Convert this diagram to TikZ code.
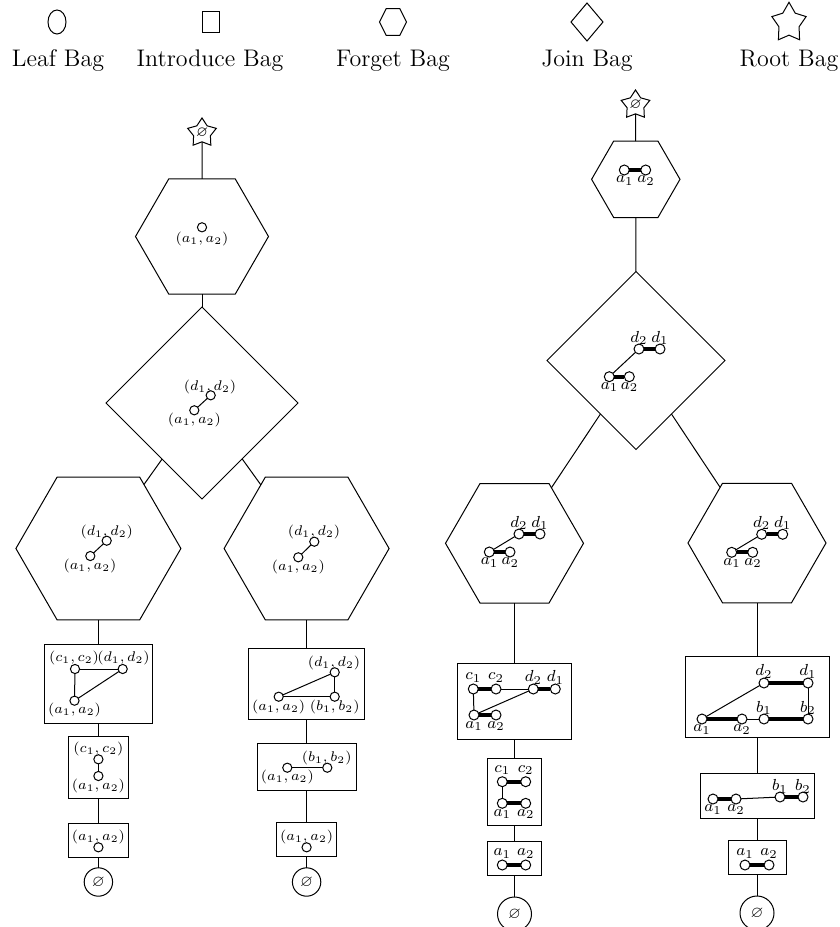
\documentclass[tikz,border=0pt]{standalone}
\usepackage{amssymb}
\usetikzlibrary{shapes.geometric}
\tikzset{
 bag/.style={draw, line width=0.5pt, inner sep=0pt, outer sep=0pt},
 hexbag/.style={bag, regular polygon, regular polygon sides=6, minimum size=#1},
 diabag/.style={bag, diamond, minimum width=#1, minimum height=#1},
 boxbag/.style 2 args={bag, rectangle, minimum width=#1, minimum height=#2},
 leafbag/.style={bag, circle, minimum size=#1, font=\footnotesize},
 rootbag/.style={bag, star, star points=5, star point ratio=1.7, minimum size=#1, font=\scriptsize},
 vtx/.style={circle, draw, line width=0.5pt, fill=white, inner sep=0pt, outer sep=0pt, minimum size=4.6pt},
 rvtx/.style={vtx, minimum size=5pt},
 lbl/.style={inner sep=0pt, font=\scriptsize},
 rlbl/.style={inner sep=0pt, font=\footnotesize},
 tedge/.style={line width=0.5pt},
 thk/.style={line width=2pt},
 legtext/.style={font=\large, anchor=base, inner sep=0pt},
}
\begin{document}
\begin{tikzpicture}[x=0.5pt,y=-0.5pt]
\useasboundingbox (0,0) rectangle (840,927);
% ---------------- legend ----------------
\node[bag, ellipse, minimum width=9pt, minimum height=12pt] (legLeaf) at (57,22) {};
\node[bag, minimum width=8.5pt, minimum height=10.5pt] (legIntro) at (211,22) {};
\begin{scope}[shift={(393,22)}, yscale=1.15, transform shape]
\node[hexbag=13.5pt] (legForget) at (0,0) {};
\end{scope}
\node[bag, diamond, minimum width=16pt, minimum height=19pt] (legJoin) at (587,22) {};
\begin{scope}[shift={(789,23)}, yscale=1.15, transform shape]
\node[bag, star, star points=5, star point ratio=1.7, minimum size=18pt] (legRoot) at (0,0) {};
\end{scope}
\node[legtext] (legLeafT) at (58,66) {Leaf Bag};
\node[legtext] (legIntroT) at (210,66) {Introduce Bag};
\node[legtext] (legForgetT) at (393,66) {Forget Bag};
\node[legtext] (legJoinT) at (587,66) {Join Bag};
\node[legtext] (legRootT) at (789,66) {Root Bag};

% ---------------- left tree: bags ----------------
\node[rootbag=12pt] (rootL) at (202,133) {$\varnothing$};
\node[hexbag=66.5pt] (hexL1) at (202,236.5) {};
\node[diabag=96pt] (diaL) at (202,403) {};
\node[hexbag=82.5pt] (hexL2) at (98.4,548.5) {};
\node[hexbag=82.5pt] (hexL3) at (306.6,548.5) {};
\node[boxbag={54.2pt}{39.2pt}] (boxL1) at (98.4,683.8) {};
\node[boxbag={30pt}{31.2pt}] (boxL2) at (98.4,767.2) {};
\node[boxbag={30pt}{17pt}] (boxL3) at (98.4,840.3) {};
\node[leafbag=14.2pt] (leafL1) at (98.4,882) {$\varnothing$};
\node[boxbag={58pt}{35.5pt}] (boxL4) at (306.6,683.8) {};
\node[boxbag={49.5pt}{23.5pt}] (boxL5) at (306.6,767.2) {};
\node[boxbag={30.2pt}{17pt}] (boxL6) at (306.6,839.7) {};
\node[leafbag=14.2pt] (leafL2) at (306.6,882) {$\varnothing$};
\draw[tedge] (rootL) -- (hexL1);
\draw[tedge] (hexL1) -- (diaL);
\draw[tedge] (diaL) -- (hexL2);
\draw[tedge] (diaL) -- (hexL3);
\draw[tedge] (hexL2) -- (boxL1);
\draw[tedge] (boxL1) -- (boxL2);
\draw[tedge] (boxL2) -- (boxL3);
\draw[tedge] (boxL3) -- (leafL1);
\draw[tedge] (hexL3) -- (boxL4);
\draw[tedge] (boxL4) -- (boxL5);
\draw[tedge] (boxL5) -- (boxL6);
\draw[tedge] (boxL6) -- (leafL2);

% ---------------- left tree: contents ----------------
% hexL1
\node[vtx] (l1a) at (202,227.3) {};
\node[lbl] (l1al) at (202,238.5) {$(a_1,a_2)$};
% diaL
\node[vtx] (l2a) at (194.3,410.3) {};
\node[vtx] (l2d) at (210.7,395.3) {};
\draw[tedge] (l2a) -- (l2d);
\node[lbl] (l2dl) at (210,386.7) {$(d_1,d_2)$};
\node[lbl] (l2al) at (194.3,420) {$(a_1,a_2)$};
% hexL2
\node[vtx] (l3a) at (90.3,556) {};
\node[vtx] (l3d) at (106.7,540.7) {};
\draw[tedge] (l3a) -- (l3d);
\node[lbl] (l3dl) at (106.7,531.7) {$(d_1,d_2)$};
\node[lbl] (l3al) at (90,566) {$(a_1,a_2)$};
% hexL3
\node[vtx] (l4a) at (298.3,557.3) {};
\node[vtx] (l4d) at (314.3,541.7) {};
\draw[tedge] (l4a) -- (l4d);
\node[lbl] (l4dl) at (314,532) {$(d_1,d_2)$};
\node[lbl] (l4al) at (298.3,567.3) {$(a_1,a_2)$};
% boxL1
\node[vtx] (l5c) at (75,669) {};
\node[vtx] (l5d) at (122.7,669) {};
\node[vtx] (l5a) at (74.5,700.7) {};
\draw[tedge] (l5c) -- (l5d);
\draw[tedge] (l5c) -- (l5a);
\draw[tedge] (l5a) -- (l5d);
\node[lbl] (l5cl) at (74,658.3) {$(c_1,c_2)$};
\node[lbl] (l5dl) at (123.5,658.3) {$(d_1,d_2)$};
\node[lbl] (l5al) at (74.5,710.3) {$(a_1,a_2)$};
% boxL2
\node[vtx] (l6c) at (98.4,759.3) {};
\node[vtx] (l6a) at (98.4,776) {};
\draw[tedge] (l6c) -- (l6a);
\node[lbl] (l6cl) at (98.4,749.3) {$(c_1,c_2)$};
\node[lbl] (l6al) at (98.4,785.7) {$(a_1,a_2)$};
% boxL3
\node[vtx] (l7a) at (98.4,847.3) {};
\node[lbl] (l7al) at (98.4,837.3) {$(a_1,a_2)$};
% boxL4
\node[vtx] (l8d) at (334.7,672.3) {};
\node[vtx] (l8b) at (334.7,696.7) {};
\node[vtx] (l8a) at (278.7,696.7) {};
\draw[tedge] (l8a) -- (l8d);
\draw[tedge] (l8d) -- (l8b);
\draw[tedge] (l8a) -- (l8b);
\node[lbl] (l8dl) at (334,662.7) {$(d_1,d_2)$};
\node[lbl] (l8al) at (278.7,706.7) {$(a_1,a_2)$};
\node[lbl] (l8bl) at (334.7,706.7) {$(b_1,b_2)$};
% boxL5
\node[vtx] (l9a) at (287.3,767.7) {};
\node[vtx] (l9b) at (327.3,767.7) {};
\draw[tedge] (l9a) -- (l9b);
\node[lbl] (l9bl) at (326.7,757.7) {$(b_1,b_2)$};
\node[lbl] (l9al) at (287.3,777.3) {$(a_1,a_2)$};
% boxL6
\node[vtx] (l10a) at (306.6,847.3) {};
\node[lbl] (l10al) at (306.6,837.3) {$(a_1,a_2)$};

% ---------------- right tree: bags ----------------
\node[rootbag=13pt] (rootR) at (635.5,105) {$\varnothing$};
\node[hexbag=44.2pt] (hexR1) at (635.8,179.3) {};
\node[diabag=89pt] (diaR) at (636,360.5) {};
\node[hexbag=69pt] (hexR2) at (514.5,543.3) {};
\node[hexbag=69pt] (hexR3) at (757,543) {};
\node[boxbag={57pt}{37.8pt}] (boxR1) at (514.5,701.2) {};
\node[boxbag={27.2pt}{33.7pt}] (boxR2) at (514.5,792) {};
\node[boxbag={27.2pt}{17pt}] (boxR3) at (514.5,858.7) {};
\node[leafbag=17pt] (leafR1) at (514.5,914) {$\varnothing$};
\node[boxbag={72pt}{40.5pt}] (boxR4) at (757,696.5) {};
\node[boxbag={57pt}{22.5pt}] (boxR5) at (757,795.5) {};
\node[boxbag={29pt}{17pt}] (boxR6) at (757,857) {};
\node[leafbag=17pt] (leafR2) at (757,913) {$\varnothing$};
\draw[tedge] (rootR) -- (hexR1);
\draw[tedge] (hexR1) -- (diaR);
\draw[tedge] (diaR) -- (hexR2);
\draw[tedge] (diaR) -- (hexR3);
\draw[tedge] (hexR2) -- (boxR1);
\draw[tedge] (boxR1) -- (boxR2);
\draw[tedge] (boxR2) -- (boxR3);
\draw[tedge] (boxR3) -- (leafR1);
\draw[tedge] (hexR3) -- (boxR4);
\draw[tedge] (boxR4) -- (boxR5);
\draw[tedge] (boxR5) -- (boxR6);
\draw[tedge] (boxR6) -- (leafR2);

% ---------------- right tree: contents ----------------
% hexR1
\node[rvtx] (r1a1) at (624.3,170) {};
\node[rvtx] (r1a2) at (645.7,170) {};
\draw[thk] (r1a1) -- (r1a2);
\node[rlbl] (r1a1l) at (624.8,180.5) {$a_1$};
\node[rlbl] (r1a2l) at (646,180.5) {$a_2$};
% diaR
\node[rvtx] (r2d2) at (639,349) {};
\node[rvtx] (r2d1) at (660,349) {};
\node[rvtx] (r2a1) at (609.3,376.7) {};
\node[rvtx] (r2a2) at (629.3,376.7) {};
\draw[thk] (r2d2) -- (r2d1);
\draw[thk] (r2a1) -- (r2a2);
\draw[tedge] (r2a1) -- (r2d2);
\node[rlbl] (r2d2l) at (639,338.3) {$d_2$};
\node[rlbl] (r2d1l) at (660,338.3) {$d_1$};
\node[rlbl] (r2a1l) at (609.5,387) {$a_1$};
\node[rlbl] (r2a2l) at (629.5,387) {$a_2$};
% hexR2
\node[rvtx] (r3d2) at (519,534) {};
\node[rvtx] (r3d1) at (540,534) {};
\node[rvtx] (r3a1) at (489.3,552) {};
\node[rvtx] (r3a2) at (510,552) {};
\draw[thk] (r3d2) -- (r3d1);
\draw[thk] (r3a1) -- (r3a2);
\draw[tedge] (r3a1) -- (r3d2);
\node[rlbl] (r3d2l) at (519,523) {$d_2$};
\node[rlbl] (r3d1l) at (540,523) {$d_1$};
\node[rlbl] (r3a1l) at (489.5,562.5) {$a_1$};
\node[rlbl] (r3a2l) at (510.3,562.5) {$a_2$};
% hexR3
\node[rvtx] (r4d2) at (761.7,534.3) {};
\node[rvtx] (r4d1) at (782.7,534.3) {};
\node[rvtx] (r4a1) at (731.7,552.3) {};
\node[rvtx] (r4a2) at (752.7,552.3) {};
\draw[thk] (r4d2) -- (r4d1);
\draw[thk] (r4a1) -- (r4a2);
\draw[tedge] (r4a1) -- (r4d2);
\node[rlbl] (r4d2l) at (761.7,523.3) {$d_2$};
\node[rlbl] (r4d1l) at (782.7,523.3) {$d_1$};
\node[rlbl] (r4a1l) at (732,562.8) {$a_1$};
\node[rlbl] (r4a2l) at (753,562.8) {$a_2$};
% boxR1
\node[rvtx] (r5c1) at (473.3,689) {};
\node[rvtx] (r5c2) at (496,689) {};
\node[rvtx] (r5d2) at (533.3,689) {};
\node[rvtx] (r5d1) at (555.3,689) {};
\node[rvtx] (r5a1) at (474,715) {};
\node[rvtx] (r5a2) at (496,715) {};
\draw[thk] (r5c1) -- (r5c2);
\draw[thk] (r5d2) -- (r5d1);
\draw[thk] (r5a1) -- (r5a2);
\draw[tedge] (r5c2) -- (r5d2);
\draw[tedge] (r5c1) -- (r5a1);
\draw[tedge] (r5a1) -- (r5d2);
\node[rlbl] (r5c1l) at (473.3,677.5) {$c_1$};
\node[rlbl] (r5c2l) at (496,677.5) {$c_2$};
\node[rlbl] (r5d2l) at (533.3,677.5) {$d_2$};
\node[rlbl] (r5d1l) at (555.3,677.5) {$d_1$};
\node[rlbl] (r5a1l) at (474,725.7) {$a_1$};
\node[rlbl] (r5a2l) at (496,725.7) {$a_2$};
% boxR2
\node[rvtx] (r6c1) at (502.3,781.7) {};
\node[rvtx] (r6c2) at (525.7,781.7) {};
\node[rvtx] (r6a1) at (502.3,803.3) {};
\node[rvtx] (r6a2) at (525.7,803.3) {};
\draw[thk] (r6c1) -- (r6c2);
\draw[thk] (r6a1) -- (r6a2);
\draw[tedge] (r6c1) -- (r6a1);
\node[rlbl] (r6c1l) at (502.3,770) {$c_1$};
\node[rlbl] (r6c2l) at (525.7,770) {$c_2$};
\node[rlbl] (r6a1l) at (502.3,813.8) {$a_1$};
\node[rlbl] (r6a2l) at (525.7,813.8) {$a_2$};
% boxR3
\node[rvtx] (r7a1) at (502.3,865) {};
\node[rvtx] (r7a2) at (525.7,865) {};
\draw[thk] (r7a1) -- (r7a2);
\node[rlbl] (r7a1l) at (502.3,853.5) {$a_1$};
\node[rlbl] (r7a2l) at (525.7,853.5) {$a_2$};
% boxR4
\node[rvtx] (r8d2) at (764,683) {};
\node[rvtx] (r8d1) at (808,683) {};
\node[rvtx] (r8a1) at (702,719) {};
\node[rvtx] (r8a2) at (742,719) {};
\node[rvtx] (r8b1) at (764,719) {};
\node[rvtx] (r8b2) at (808,719) {};
\draw[thk] (r8d2) -- (r8d1);
\draw[thk] (r8a1) -- (r8a2);
\draw[thk] (r8b1) -- (r8b2);
\draw[tedge] (r8a1) -- (r8d2);
\draw[tedge] (r8a2) -- (r8b1);
\draw[tedge] (r8d1) -- (r8b2);
\node[rlbl] (r8d2l) at (764,671.5) {$d_2$};
\node[rlbl] (r8d1l) at (808,671.5) {$d_1$};
\node[rlbl] (r8b1l) at (764,708) {$b_1$};
\node[rlbl] (r8b2l) at (808,708) {$b_2$};
\node[rlbl] (r8a1l) at (702,729.5) {$a_1$};
\node[rlbl] (r8a2l) at (742,729.5) {$a_2$};
% boxR5
\node[rvtx] (r9a1) at (713,799) {};
\node[rvtx] (r9a2) at (736,799) {};
\node[rvtx] (r9b1) at (780,797) {};
\node[rvtx] (r9b2) at (803,797) {};
\draw[thk] (r9a1) -- (r9a2);
\draw[thk] (r9b1) -- (r9b2);
\draw[tedge] (r9a2) -- (r9b1);
\node[rlbl] (r9b1l) at (780,786.5) {$b_1$};
\node[rlbl] (r9b2l) at (803,786.5) {$b_2$};
\node[rlbl] (r9a1l) at (713,809.5) {$a_1$};
\node[rlbl] (r9a2l) at (736,809.5) {$a_2$};
% boxR6
\node[rvtx] (r10a1) at (745,865) {};
\node[rvtx] (r10a2) at (769,865) {};
\draw[thk] (r10a1) -- (r10a2);
\node[rlbl] (r10a1l) at (745,853.5) {$a_1$};
\node[rlbl] (r10a2l) at (769,853.5) {$a_2$};
\end{tikzpicture}
\end{document}
